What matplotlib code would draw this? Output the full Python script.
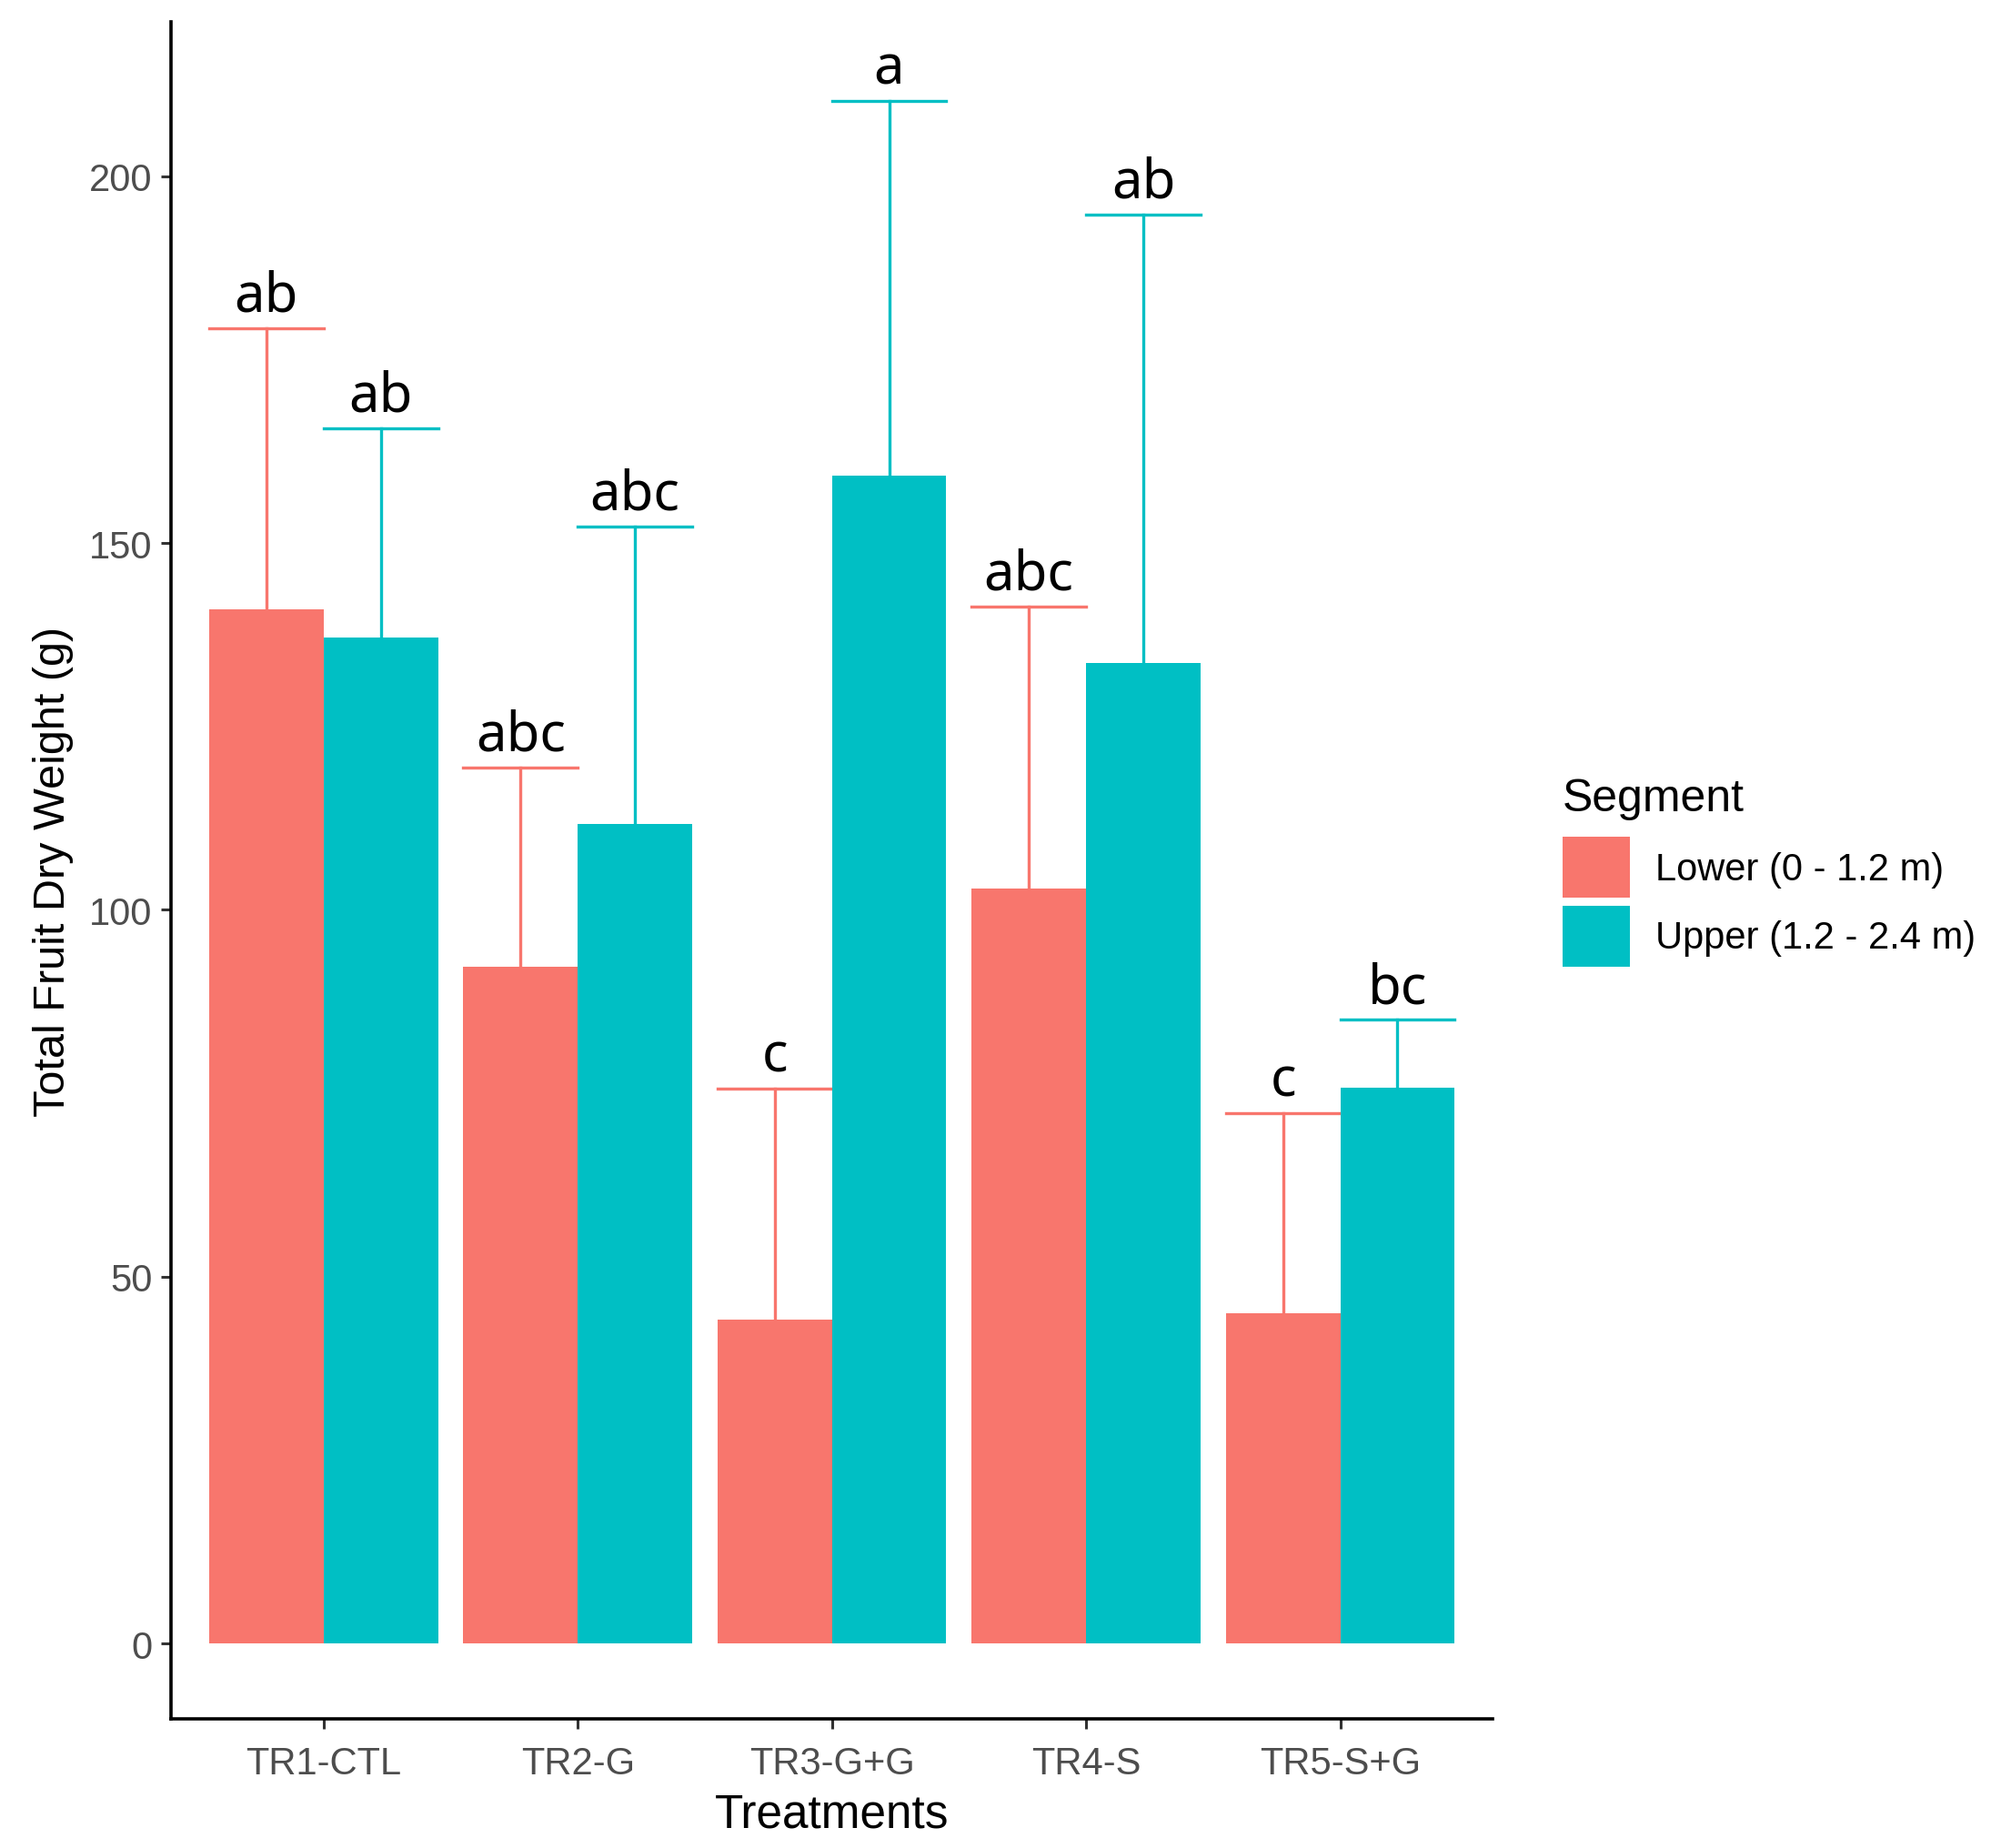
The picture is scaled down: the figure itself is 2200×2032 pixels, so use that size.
import matplotlib
matplotlib.use("Agg")
import matplotlib.pyplot as plt
from matplotlib.patches import Patch
import numpy as np

# data
treatments = ["TR1-CTL", "TR2-G", "TR3-G+G", "TR4-S", "TR5-S+G"]
segments = ["Lower (0 - 1.2 m)", "Upper (1.2 - 2.4 m)"]
lower_mean = [140.9, 92.3, 44.1, 102.9, 45.0]
lower_top = [179.3, 119.4, 75.6, 141.3, 72.3]
upper_mean = [137.1, 111.7, 159.2, 133.6, 75.8]
upper_top = [165.6, 152.2, 210.3, 194.8, 85.0]
lower_letters = ["ab", "abc", "c", "abc", "c"]
upper_letters = ["ab", "abc", "a", "ab", "bc"]

col_lower = "#F8766D"
col_upper = "#00BFC4"

plt.rcParams["font.family"] = ["Liberation Sans", "DejaVu Sans"]

fig = plt.figure(figsize=(22, 20.33), dpi=100)
ax = fig.add_axes([0.0855, 0.0697, 0.746 - 0.0855, 0.9876 - 0.0697])

x = np.arange(1, len(treatments) + 1)
w = 0.45

series = [
    (x - w / 2, lower_mean, lower_top, lower_letters, col_lower),
    (x + w / 2, upper_mean, upper_top, upper_letters, col_upper),
]
for xs, means, tops, letters, col in series:
    ax.bar(xs, means, width=w, color=col, zorder=2)
    for xi, m, t, lab in zip(xs, means, tops, letters):
        ax.plot([xi, xi], [m, t], color=col, lw=2.4, zorder=1)
        ax.plot([xi - w / 2, xi + w / 2], [t, t], color=col, lw=2.4, zorder=1)
        ax.text(xi, t + 2.4, lab, ha="center", va="baseline", fontsize=43,
                family="Noto Sans", color="black")

ax.set_xlim(0.4, 5.6)
ax.set_ylim(-10.3, 221)
ax.set_xticks(x)
ax.set_xticklabels(treatments)
ax.set_yticks([0, 50, 100, 150, 200])

for s in ["top", "right"]:
    ax.spines[s].set_visible(False)
for s in ["left", "bottom"]:
    ax.spines[s].set_linewidth(2.6)
    ax.spines[s].set_color("black")

ax.tick_params(axis="both", length=8, width=2.2, color="#333333",
               labelsize=30, labelcolor="#4D4D4D", pad=7)
ax.tick_params(axis="x", pad=13)

ax.set_xlabel("Treatments", fontsize=37, labelpad=8)
ax.set_ylabel("Total Fruit Dry Weight (g)", fontsize=35)
ax.yaxis.set_label_coords(-0.074, 0.5)

handles = [Patch(facecolor=col_lower, label=segments[0]),
           Patch(facecolor=col_upper, label=segments[1])]
leg = fig.legend(handles=handles, title="Segment", loc="upper left",
                 bbox_to_anchor=(0.781, 0.579), frameon=False, fontsize=30,
                 title_fontsize=36, handlelength=1.77, handleheight=2.1,
                 labelspacing=0.2, handletextpad=0.67, borderpad=0,
                 borderaxespad=0, alignment="left")
leg._legend_box.sep = 14

fig.savefig("out.png", dpi=100)
